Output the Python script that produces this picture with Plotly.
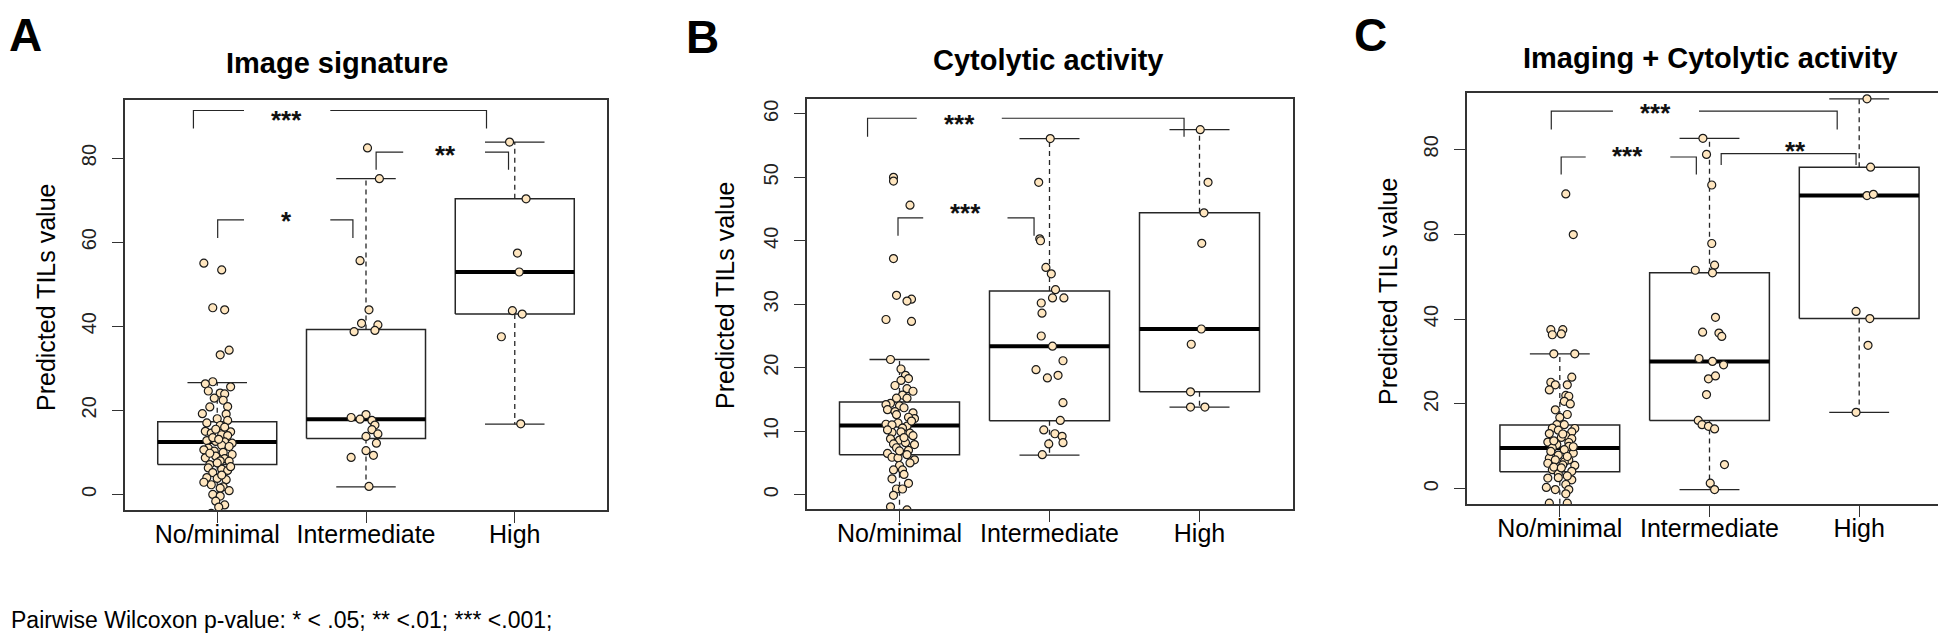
import plotly.graph_objects as go

W, H = 1946, 633
FONT = "Liberation Sans, Arial, Helvetica, sans-serif"
INK = "#262626"
DOT_FILL = "#FFE6BF"

categories = ["No/minimal", "Intermediate", "High"]
panel_letters = ["A", "B", "C"]
panel_titles = ["Image signature", "Cytolytic activity", "Imaging + Cytolytic activity"]
y_axis_title = "Predicted TILs value"
footnote = "Pairwise Wilcoxon p-value: * < .05; ** <.01; *** <.001;"

# ---------------- Panel A : Image signature ----------------
A_nomin_vals = [55.0, 53.4, 44.4, 43.9, 34.3, 33.2, 26.8, 26.3, 25.6, 24.6, 24.1, 23.9, 22.9, 22.4,
                20.9, 20.8, 19.2, 19.1, 18.0, 17.6, 17.0, 16.4, 15.0, 14.9, 14.6, 14.2, 14.0, 12.8,
                12.6, 12.5, 12.2, 11.7, 11.0, 10.6, 10.3, 10.0, 9.5, 9.1, 8.7, 8.5, 8.0, 7.9, 7.1,
                6.3, 6.0, 5.7, 5.2, 4.0, 3.8, 3.5, 2.3, 1.8, 1.5, 0.9, 0.0, -0.4, -1.6, -2.5, -3.0,
                -4.5, 16.0, 13.5, 11.4, 9.8, 7.5, 6.6, 4.6, 2.9, 13.1, 15.5]
A_nomin_dx = [-0.09, 0.03, -0.03, 0.05, 0.08, 0.02, -0.03, -0.08, 0.09, -0.06, 0.02, 0.05, -0.02, 0.04,
              0.07, -0.05, -0.10, 0.06, 0.00, 0.07, -0.07, 0.02, -0.08, 0.09, -0.04, 0.03, 0.07, -0.07,
              -0.01, 0.05, 0.10, 0.03, -0.06, -0.09, -0.02, 0.04, 0.10, -0.01, -0.08, 0.05, 0.02, 0.08, -0.05,
              -0.06, 0.03, 0.07, -0.03, -0.07, 0.00, 0.06, -0.04, 0.04, 0.02, 0.08, -0.03, 0.02, -0.01, 0.05, 0.01,
              -0.04, 0.05, -0.03, 0.08, -0.05, 0.00, 0.09, 0.03, -0.09, 0.01, -0.01]
A_inter_vals = [82.4, 75.1, 55.6, 43.9, 40.7, 40.3, 39.0, 38.7, 19.0, 18.3, 17.9, 17.6, 16.5, 15.4,
                14.4, 13.8, 12.2, 10.4, 9.3, 8.8, 1.9]
A_inter_dx = [0.01, 0.09, -0.04, 0.02, -0.03, 0.08, 0.06, -0.08, 0.0, -0.10, -0.04, 0.04, 0.06, 0.04,
              0.08, 0.0, 0.07, 0.0, 0.05, -0.10, 0.02]
A_high_vals = [83.8, 70.3, 57.4, 52.9, 43.7, 42.9, 37.5, 16.8]
A_high_dx = [-0.035, 0.076, 0.018, 0.03, -0.016, 0.05, -0.09, 0.04]

A_q1 = [7.1, 13.3, 42.9]
A_med = [12.5, 17.9, 52.9]
A_q3 = [17.3, 39.2, 70.3]
A_lo = [-6.0, 1.8, 16.7]
A_hi = [26.6, 75.1, 83.8]
A_yrange = [-3.7, 93.8]
A_yticks = [0, 20, 40, 60, 80]
# (x0, x1, y_line, y_end, gap_start, gap_end, label, text_x, text_y)
A_brackets = [
    (0.84, 2.81, 91.3, 87.0, 1.18, 1.76, "***", 1.465, 88.3),
    (1.003, 1.912, 65.3, 61.0, 1.18, 1.76, "*", 1.467, 64.2),
    (2.068, 2.958, 81.4, 77.2, 2.25, 2.80, "**", 2.535, 80.0),
]

# ---------------- Panel B : Cytolytic activity ----------------
B_nomin_vals = [50.0, 49.4, 45.6, 37.2, 31.4, 30.8, 30.5, 27.6, 27.3, 21.3, 19.8, 18.8, 18.3, 18.0,
                16.7, 16.3, 15.7, 15.2, 15.2, 14.4, 14.2, 14.0, 13.4, 13.1, 12.9, 12.6, 12.0, 11.3,
                11.1, 11.0, 10.8, 10.5, 9.9, 9.8, 9.7, 9.3, 8.8, 8.6, 8.2, 8.0, 7.9, 7.0, 6.5, 6.3,
                5.9, 5.8, 5.5, 4.6, 3.9, 3.9, 3.2, 2.5, 0.9, 0.9, -0.1, -1.9, -2.4, -3.5,
                17.2, 13.7, 12.2, 10.2, 9.0, 7.4, 6.9, 5.0, 1.8, 11.6]
B_nomin_dx = [-0.04, -0.04, 0.07, -0.04, -0.02, 0.08, 0.05, -0.09, 0.08, -0.06, 0.01, 0.04, 0.06, 0.01,
              0.05, 0.09, 0.02, -0.02, 0.05, -0.06, -0.09, 0.00, -0.08, -0.03, 0.09, -0.02, 0.10, -0.01,
              -0.09, -0.05, 0.05, 0.02, 0.01, -0.05, 0.07, 0.09, -0.06, 0.00, 0.04, -0.04, 0.10, 0.06, -0.08, 0.05,
              -0.05, -0.01, 0.10, 0.00, -0.04, 0.02, 0.03, -0.05, -0.02, 0.02, -0.04, -0.06, 0.05, 0.00,
              -0.03, 0.03, 0.06, -0.08, 0.03, -0.02, 0.00, 0.07, 0.06, 0.08]
B_inter_vals = [56.1, 49.2, 40.3, 40.0, 35.8, 34.8, 32.3, 31.0, 31.0, 30.2, 28.6, 25.0, 23.4, 21.1,
                19.7, 18.8, 18.4, 14.5, 11.7, 10.2, 9.6, 9.2, 8.2, 8.0, 6.3]
B_inter_dx = [0.005, -0.072, -0.065, -0.06, -0.024, 0.012, 0.04, 0.02, 0.096, -0.055, -0.05, -0.055, 0.02,
              0.09, -0.09, 0.057, -0.014, 0.09, 0.072, -0.038, 0.036, 0.084, 0.09, -0.005, -0.048]
B_high_vals = [57.5, 49.2, 44.4, 39.6, 26.1, 23.7, 16.2, 13.8, 13.8]
B_high_dx = [0.005, 0.057, 0.03, 0.015, 0.012, -0.055, -0.06, -0.06, 0.036]

B_q1 = [6.3, 11.65, 16.2]
B_med = [10.9, 23.4, 26.1]
B_q3 = [14.6, 32.1, 44.4]
B_lo = [-4.0, 6.25, 13.8]
B_hi = [21.3, 56.1, 57.5]
B_yrange = [-2.25, 62.3]
B_yticks = [0, 10, 20, 30, 40, 50, 60]
B_brackets = [
    (0.787, 2.897, 59.3, 56.4, 1.115, 1.682, "***", 1.397, 58.0),
    (0.99, 1.897, 43.6, 40.8, 1.158, 1.72, "***", 1.443, 43.9),
]

# ---------------- Panel C : Imaging + Cytolytic activity ----------------
C_nomin_vals = [69.5, 59.9, 37.5, 37.5, 36.3, 36.5, 31.8, 31.8, 26.3, 25.1, 24.5, 24.5, 23.3, 22.0,
                21.8, 20.6, 20.0, 18.6, 16.8, 15.1, 15.1, 14.3, 14.2, 13.4, 13.0, 12.5, 12.1, 11.8,
                11.0, 10.9, 10.4, 10.0, 9.6, 9.2, 8.4, 7.9, 7.2, 6.8, 6.8, 6.3, 6.0, 5.6, 5.5, 4.5,
                4.1, 3.5, 2.5, 2.6, 2.1, 1.0, 0.3, -0.2, -0.2, -1.2, -3.4, -3.4,
                17.5, 13.8, 12.9, 11.3, 8.8, 7.6, 5.1, 3.0, 9.9, 4.9]
C_nomin_dx = [0.04, 0.09, -0.06, 0.02, -0.05, 0.01, -0.04, 0.10, 0.08, -0.06, -0.03, 0.05, -0.07, 0.04,
              0.06, 0.03, 0.07, -0.03, 0.00, -0.02, 0.03, -0.05, 0.10, 0.08, -0.07, 0.04, 0.01, 0.08,
              -0.08, 0.06, -0.02, 0.06, -0.05, 0.03, 0.09, -0.01, -0.07, -0.03, 0.06, 0.03, -0.08, 0.02, 0.10, -0.05,
              0.08, -0.01, -0.08, -0.01, 0.08, 0.04, -0.09, -0.03, 0.06, 0.04, -0.07, 0.05,
              0.05, -0.01, 0.02, -0.04, -0.06, 0.05, -0.04, 0.05, 0.09, 0.01]
C_inter_vals = [82.6, 78.8, 71.6, 57.8, 52.7, 51.5, 50.9, 40.4, 36.9, 36.7, 35.9, 30.7, 30.0, 29.2,
                25.9, 26.6, 22.2, 16.1, 15.1, 14.7, 14.1, 5.7, 1.3, -0.2]
C_inter_dx = [-0.044, -0.02, 0.015, 0.015, 0.034, -0.095, 0.02, 0.04, -0.046, 0.063, 0.082, -0.07, 0.02,
              0.094, -0.007, 0.04, -0.02, -0.075, -0.05, -0.007, 0.034, 0.1, 0.005, 0.034]
C_high_vals = [91.9, 75.8, 69.1, 69.4, 41.8, 40.1, 33.8, 18.0]
C_high_dx = [0.052, 0.076, 0.052, 0.095, -0.021, 0.071, 0.059, -0.021]

C_q1 = [4.0, 16.1, 40.1]
C_med = [9.6, 30.0, 69.1]
C_q3 = [15.0, 50.9, 75.8]
C_lo = [-5.0, -0.2, 18.0]
C_hi = [31.8, 82.6, 91.9]
C_yrange = [-3.6, 93.4]
C_yticks = [0, 20, 40, 60, 80]
C_brackets = [
    (0.943, 2.853, 89.0, 84.7, 1.355, 1.93, "***", 1.64, 87.8),
    (1.009, 1.912, 78.2, 74.1, 1.173, 1.738, "***", 1.452, 77.8),
    (2.078, 2.979, 79.0, 76.3, None, None, "**", 2.572, 79.0),
]

# ---------------- layout geometry (pixels) ----------------
panel_px = [(117, 599, 92, 502), (798.5, 1284.5, 91.2, 501), (1459, 1944, 84.5, 496)]
title_px = [(329, 55), (1040, 52), (1702, 50)]
letter_px = [(17, 0), (694, 2), (1362, 0)]
ylab_px = [(38, 290), (717, 288), (1380, 284)]
X_RANGE = [0.38, 3.62]
BOX_HALF = 0.4
CAP_HALF = 0.2

panels = [
    dict(groups=[(A_nomin_vals, A_nomin_dx), (A_inter_vals, A_inter_dx), (A_high_vals, A_high_dx)],
         q1=A_q1, med=A_med, q3=A_q3, lo=A_lo, hi=A_hi, yrange=A_yrange, yticks=A_yticks, brackets=A_brackets),
    dict(groups=[(B_nomin_vals, B_nomin_dx), (B_inter_vals, B_inter_dx), (B_high_vals, B_high_dx)],
         q1=B_q1, med=B_med, q3=B_q3, lo=B_lo, hi=B_hi, yrange=B_yrange, yticks=B_yticks, brackets=B_brackets),
    dict(groups=[(C_nomin_vals, C_nomin_dx), (C_inter_vals, C_inter_dx), (C_high_vals, C_high_dx)],
         q1=C_q1, med=C_med, q3=C_q3, lo=C_lo, hi=C_hi, yrange=C_yrange, yticks=C_yticks, brackets=C_brackets),
]

fig = go.Figure()
annotations = []
layout_axes = {}

for k, p in enumerate(panels):
    sfx = "" if k == 0 else str(k + 1)
    xa, ya = "x" + sfx, "y" + sfx
    x0px, x1px, y0px, y1px = panel_px[k]

    # boxes
    bx, by, mx, my, wx, wy, cx, cy = [], [], [], [], [], [], [], []
    for i in range(3):
        c = i + 1
        bx += [c - BOX_HALF, c + BOX_HALF, c + BOX_HALF, c - BOX_HALF, c - BOX_HALF, None]
        by += [p["q1"][i], p["q1"][i], p["q3"][i], p["q3"][i], p["q1"][i], None]
        mx += [c - BOX_HALF, c + BOX_HALF, None]
        my += [p["med"][i], p["med"][i], None]
        wx += [c, c, None, c, c, None]
        wy += [p["q3"][i], p["hi"][i], None, p["q1"][i], p["lo"][i], None]
        cx += [c - CAP_HALF, c + CAP_HALF, None, c - CAP_HALF, c + CAP_HALF, None]
        cy += [p["hi"][i], p["hi"][i], None, p["lo"][i], p["lo"][i], None]
    common = dict(xaxis=xa, yaxis=ya, mode="lines", hoverinfo="skip", showlegend=False)
    fig.add_trace(go.Scatter(x=wx, y=wy, line=dict(color=INK, width=1.3, dash="5px,4px"), **common))
    fig.add_trace(go.Scatter(x=cx, y=cy, line=dict(color=INK, width=1.3), **common))
    fig.add_trace(go.Scatter(x=bx, y=by, line=dict(color=INK, width=1.5), **common))
    fig.add_trace(go.Scatter(x=mx, y=my, line=dict(color="#000000", width=4), **common))

    # brackets
    for (b0, b1, yl, ye, g0, g1, lab, tx, ty) in p["brackets"]:
        if g0 is None:
            lx, ly = [b0, b0, b1, b1], [ye, yl, yl, ye]
        else:
            lx, ly = [b0, b0, g0, None, g1, b1, b1], [ye, yl, yl, None, yl, yl, ye]
        fig.add_trace(go.Scatter(x=lx, y=ly, line=dict(color=INK, width=1.2), **common))
        annotations.append(dict(x=tx, y=ty, xref=xa, yref=ya, text="<b>%s</b>" % lab, showarrow=False,
                                yshift=3, font=dict(family=FONT, size=26, color="#111")))

    # points
    for i, (vals, dxs) in enumerate(p["groups"]):
        fig.add_trace(go.Scatter(
            x=[i + 1 + d for d in dxs], y=vals, xaxis=xa, yaxis=ya, mode="markers",
            marker=dict(size=8, color=DOT_FILL, line=dict(color="#1a1a1a", width=1.2)),
            hoverinfo="skip", showlegend=False, cliponaxis=True))

    axcommon = dict(showline=True, mirror=True, linecolor="#333", linewidth=1.5, showgrid=False,
                    zeroline=False, ticks="outside", ticklen=11, tickwidth=1.3, tickcolor="#333")
    layout_axes["xaxis" + sfx] = dict(domain=[x0px / W, x1px / W], range=X_RANGE, anchor=ya,
                                      tickvals=[1, 2, 3], ticktext=categories, ticklabelstandoff=-10,
                                      tickfont=dict(family=FONT, size=25, color="#000"), **axcommon)
    layout_axes["yaxis" + sfx] = dict(domain=[1 - y1px / H, 1 - y0px / H], range=p["yrange"], anchor=xa,
                                      tickvals=p["yticks"], tickangle=-90, ticklabelstandoff=8,
                                      tickfont=dict(family=FONT, size=20, color="#222"), **axcommon)

    # titles, letters, y labels
    tx_, ty_ = title_px[k]
    annotations.append(dict(x=tx_ / W, y=1 - ty_ / H, xref="paper", yref="paper", text="<b>%s</b>" % panel_titles[k],
                            showarrow=False, xanchor="center", yanchor="middle",
                            font=dict(family=FONT, size=29, color="#000")))
    lx_, ly_ = letter_px[k]
    annotations.append(dict(x=lx_ / W, y=1 - ly_ / H, xref="paper", yref="paper", text="<b>%s</b>" % panel_letters[k],
                            showarrow=False, xanchor="center", yanchor="top", borderpad=0,
                            font=dict(family=FONT, size=46, color="#000")))
    yx_, yy_ = ylab_px[k]
    annotations.append(dict(x=yx_ / W, y=1 - yy_ / H, xref="paper", yref="paper", text=y_axis_title,
                            showarrow=False, textangle=-90, xanchor="center", yanchor="middle",
                            font=dict(family=FONT, size=25, color="#000")))

annotations.append(dict(x=2 / W, y=1 - 612 / H, xref="paper", yref="paper", text=footnote,
                        showarrow=False, xanchor="left", yanchor="middle", borderpad=0,
                        font=dict(family=FONT, size=23, color="#000")))

fig.update_layout(width=W, height=H, margin=dict(l=0, r=0, t=0, b=0),
                  paper_bgcolor="white", plot_bgcolor="white", showlegend=False,
                  annotations=annotations, **layout_axes)

fig.write_html("out.html")
